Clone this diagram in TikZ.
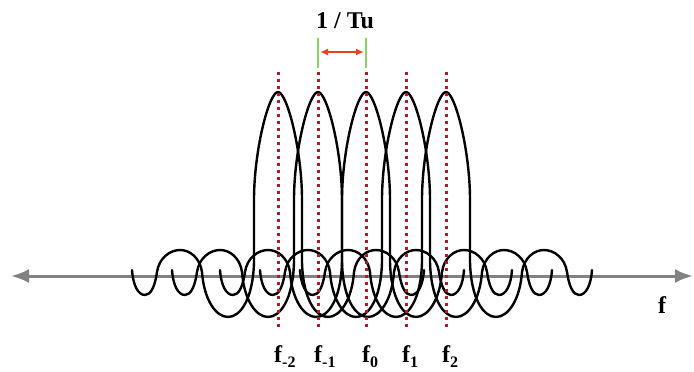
\documentclass[tikz,border=0pt]{standalone}
\usepackage{fontspec}
\setmainfont{Liberation Serif}
\usetikzlibrary{arrows.meta}
\definecolor{axisG}{RGB}{130,130,130}
\definecolor{dotR}{RGB}{168,30,46}
\definecolor{arrR}{RGB}{226,68,32}
\definecolor{tickG}{RGB}{140,210,100}
\newcommand{\lowsub}[1]{\raisebox{-5pt}{\fontsize{16}{16}\selectfont #1}}
% one side of a subcarrier, relative to its centre
\newcommand{\sidelobe}{(24,200) -- (24,262)
  .. controls (25,300) and (38,317) .. (50,317) .. controls (62,317) and (74,300) .. (76,272)
  .. controls (78,258) and (88,250) .. (98,250) .. controls (108,250) and (119,258) .. (121,272)
  .. controls (123,286) and (127,295) .. (133,295) .. controls (140,295) and (145,285) .. (146,270)}

\begin{document}
\begin{tikzpicture}[x=1pt, y=-1pt,
  carrier/.style={line width=2.4pt, black, line join=round, line cap=round},
  fline/.style={dotR, line width=3pt, dash pattern=on 3pt off 4pt},
  lab/.style={font=\fontsize{24}{26}\selectfont\bfseries, inner sep=0pt}]
\useasboundingbox (0,0) rectangle (694,372);
% frequency axis
\coordinate (axL) at (11,276);
\coordinate (axR) at (693,276);
\draw[axisG, line width=3pt, {Latex[length=18pt,width=14pt]}-{Latex[length=18pt,width=14pt]}] (axL) -- (axR);
% subcarriers
\foreach \c in {278,318,366,406,446}{
  \begin{scope}[shift={(\c,0)}]
    \draw[carrier] (-24,200) .. controls (-24,150) and (-9,92) .. (0,92)
      .. controls (9,92) and (24,150) .. (24,200);
    \draw[carrier] \sidelobe;
    \draw[carrier, xscale=-1] \sidelobe;
  \end{scope}
}
% carrier frequencies
\foreach \c/\s/\nm in {278/-2/a, 318/-1/b, 366/0/c, 406/1/d, 446/2/e}{
  \draw[fline] (\c,72) -- (\c,330);
  \node[lab, anchor=base west] (f\nm) at (\c-4,362) {f\lowsub{\s}};
}
% spacing marker
\draw[tickG, line width=1.5pt] (318,38) -- (318,68);
\draw[tickG, line width=1.5pt] (366,38) -- (366,68);
\coordinate (tuL) at (320,52);
\coordinate (tuR) at (364,52);
\draw[arrR, line width=2pt, {Latex[length=8pt,width=7pt]}-{Latex[length=8pt,width=7pt]}] (tuL) -- (tuR);
\node[lab, anchor=base] (tu) at (345,28) {1 / Tu};
\node[lab, anchor=base] (fax) at (662,313) {f};
\end{tikzpicture}
\end{document}
